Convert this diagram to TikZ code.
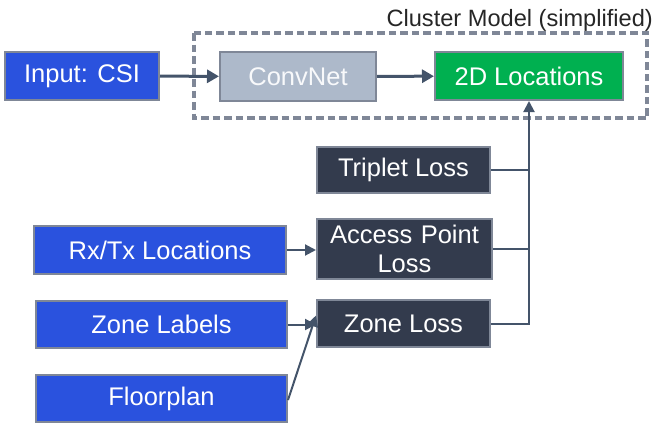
\documentclass[tikz,border=0pt]{standalone}
\usepackage{fontspec}
\setmainfont{Liberation Sans}
\usetikzlibrary{arrows.meta,positioning}
\definecolor{inblue}{HTML}{2A52DE}
\definecolor{bordergray}{HTML}{7F8797}
\definecolor{convgray}{HTML}{ADB9CA}
\definecolor{locgreen}{HTML}{00B050}
\definecolor{lossdark}{HTML}{333B4D}
\definecolor{arrowcol}{HTML}{44546A}
\tikzset{
  box/.style={draw=bordergray, line width=2pt, text=white, font=\fontsize{25.5}{29}\selectfont, align=center, inner sep=0pt},
  inbox/.style={box, fill=inblue},
  lossbox/.style={box, fill=lossdark},
  bigarrow/.style={draw=arrowcol, line width=3pt, -{Triangle[length=12pt,width=13pt]}},
  midarrow/.style={draw=arrowcol, line width=2pt, -{Triangle[length=11pt,width=11pt]}},
  thinline/.style={draw=arrowcol, line width=2pt},
}
\begin{document}
\begin{tikzpicture}[x=1pt,y=-1pt]
\useasboundingbox (0,0) rectangle (657,426);
% cluster box
\draw[bordergray, line width=3.3pt, dash pattern=on 7.5pt off 4pt] (194,33) rectangle (647,118);
\node[anchor=base east, font=\fontsize{23.6}{26}\selectfont, text=black!85, inner sep=0pt] (title) at (653,26) {Cluster Model (simplified)};
% nodes
\node[inbox, minimum width=154pt, minimum height=48pt] (inp) at (82,76) {Input: CSI};
\node[box, fill=convgray, text=white!92!convgray, minimum width=156pt, minimum height=49pt] (conv) at (298,76.5) {ConvNet};
\node[box, fill=locgreen, minimum width=188pt, minimum height=48pt] (loc) at (529,76) {2D Locations};
\node[lossbox, minimum width=173pt, minimum height=46pt] (trip) at (403.5,170) {Triplet Loss};
\node[lossbox, minimum width=175pt, minimum height=60pt, text width=170pt] (ap) at (404.5,249) {Access Point\\Loss};
\node[inbox, minimum width=252pt, minimum height=48pt] (rx) at (160,250) {Rx/Tx Locations};
\node[inbox, minimum width=251pt, minimum height=47pt] (zl) at (161.5,324.5) {Zone Labels};
\node[lossbox, minimum width=173pt, minimum height=47pt] (zloss) at (403.5,323.5) {Zone Loss};
\node[inbox, minimum width=251pt, minimum height=47pt] (fp) at (161.5,398.5) {Floorplan};
% connectors
\draw[bigarrow] (inp) -- (conv);
\draw[bigarrow] (conv) -- (loc);
\draw[midarrow] (rx.east) -- (rx.east -| ap.west);
\draw[midarrow] (zl.east) -- (zl.east -| zloss.west);
\coordinate (fpout) at ([yshift=-1.5pt]fp.east);
\draw[midarrow] (fpout) -- ([yshift=8pt]zloss.west);
\draw[thinline, -{Triangle[length=11pt,width=11pt]}] (zloss.east) -| (loc.south);
\draw[thinline] (trip.east) -- (trip.east -| loc.south);
\draw[thinline] (ap.east) -- (ap.east -| loc.south);
\end{tikzpicture}
\end{document}
